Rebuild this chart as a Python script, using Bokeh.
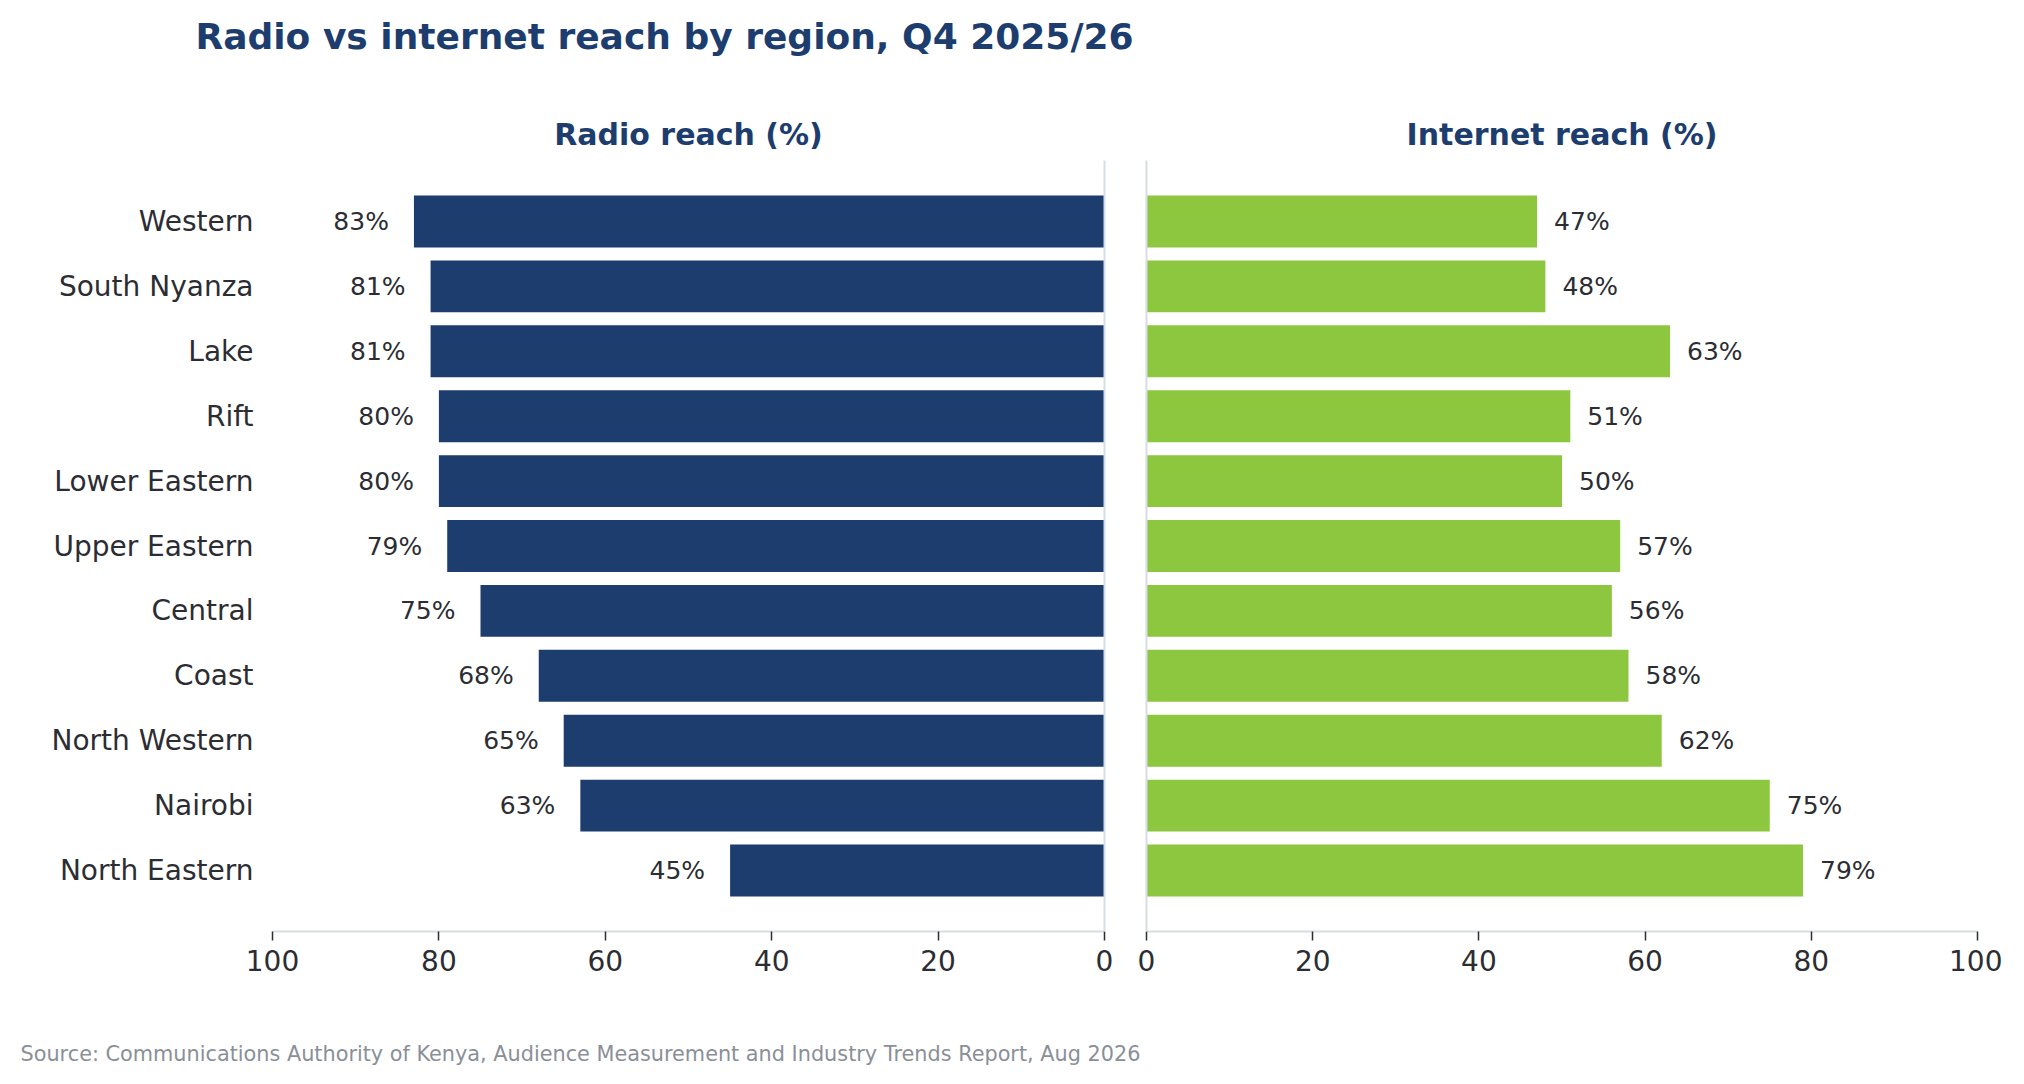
from bokeh.plotting import figure
from bokeh.models import Range1d, FixedTicker, LinearAxis, Label, ColumnDataSource
from bokeh.layouts import column, row
from bokeh.embed import file_html
from bokeh.resources import INLINE

regions = ["Western", "South Nyanza", "Lake", "Rift", "Lower Eastern", "Upper Eastern",
           "Central", "Coast", "North Western", "Nairobi", "North Eastern"]
radio = [83, 81, 81, 80, 80, 79, 75, 68, 65, 63, 45]
internet = [47, 48, 63, 51, 50, 57, 56, 58, 62, 75, 79]
x_ticks = [0, 20, 40, 60, 80, 100]

title_text = "Radio vs internet reach by region, Q4 2025/26"
left_title = "Radio reach (%)"
right_title = "Internet reach (%)"
source_text = "Source: Communications Authority of Kenya, Audience Measurement and Industry Trends Report, Aug 2026"

NAVY = "#1c3d6e"
GREEN = "#8dc63f"
TEXT = "#2b2d33"
GRID = "#d8dde3"
FONT = "DejaVu Sans"

idx = list(range(len(regions)))
src = ColumnDataSource(dict(
    y=idx, region=regions, radio=radio, internet=internet,
    radio_lbl=[f"{v}%" for v in radio], internet_lbl=[f"{v}%" for v in internet],
))

n = len(regions)
y_start, y_end = n - 1 + 0.94, -0.94
LEFT_W = 272 + 832 + 20
RIGHT_W = 22 + 831 + 25
TOTAL_W = LEFT_W + RIGHT_W


def style_common(p, title):
    p.title.text = title
    p.title.align = "center"
    p.title.text_font = FONT
    p.title.text_font_size = "30px"
    p.title.text_font_style = "bold"
    p.title.text_color = NAVY
    p.title.standoff = 17
    p.outline_line_color = None
    p.background_fill_color = "white"
    p.border_fill_color = "white"
    p.xgrid.visible = False
    p.ygrid.visible = False
    ax = p.xaxis[0]
    ax.ticker = FixedTicker(ticks=x_ticks)
    ax.axis_line_color = GRID
    ax.axis_line_width = 2
    ax.major_tick_line_color = TEXT
    ax.major_tick_line_width = 1.5
    ax.major_tick_out = 9
    ax.major_tick_in = 0
    ax.minor_tick_line_color = None
    ax.major_label_text_font = FONT
    ax.major_label_text_font_size = "28px"
    ax.major_label_text_color = TEXT
    ax.major_label_standoff = 9


# ---- left panel (radio) ----
left = figure(width=LEFT_W, height=922,
              x_range=Range1d(100, 0), y_range=Range1d(y_start, y_end),
              output_backend="svg", toolbar_location=None,
              min_border_left=272, min_border_right=20,
              min_border_top=81, min_border_bottom=70)
style_common(left, left_title)
left.hbar(y="y", left=0, right="radio", height=0.8, source=src,
          fill_color=NAVY, line_color=None)
left.text(x="radio", y="y", text="radio_lbl", source=src, x_offset=-25,
          text_align="right", text_baseline="middle",
          text_font_size="25px", text_color=TEXT, text_font={"value": FONT})
ya = left.yaxis[0]
ya.ticker = FixedTicker(ticks=idx)
ya.major_label_overrides = {i: r for i, r in enumerate(regions)}
ya.axis_line_color = None
ya.major_tick_line_color = None
ya.major_tick_out = 0
ya.major_tick_in = 0
ya.minor_tick_line_color = None
ya.major_label_standoff = 19
ya.major_label_text_font = FONT
ya.major_label_text_font_size = "28px"
ya.major_label_text_color = TEXT
rax = LinearAxis(ticker=FixedTicker(ticks=[]), axis_line_color=GRID, axis_line_width=2,
                 major_tick_line_color=None, minor_tick_line_color=None,
                 major_label_text_font_size="0px")
left.add_layout(rax, "right")

# ---- right panel (internet) ----
right = figure(width=RIGHT_W, height=922,
               x_range=Range1d(0, 100), y_range=left.y_range,
               output_backend="svg", toolbar_location=None,
               min_border_left=22, min_border_right=25,
               min_border_top=81, min_border_bottom=70)
style_common(right, right_title)
right.hbar(y="y", left=0, right="internet", height=0.8, source=src,
           fill_color=GREEN, line_color=None)
right.text(x="internet", y="y", text="internet_lbl", source=src, x_offset=17,
           text_align="left", text_baseline="middle",
           text_font_size="25px", text_color=TEXT, text_font={"value": FONT})
yb = right.yaxis[0]
yb.ticker = FixedTicker(ticks=[])
yb.axis_line_color = GRID
yb.axis_line_width = 2
yb.major_tick_line_color = None
yb.minor_tick_line_color = None
yb.major_label_text_font_size = "0px"


# ---- header and footer ----
def text_strip(h):
    p = figure(width=TOTAL_W, height=h, x_range=Range1d(0, TOTAL_W), y_range=Range1d(h, 0),
               x_axis_type=None, y_axis_type=None, min_border=0,
               output_backend="svg", toolbar_location=None)
    p.outline_line_color = None
    p.background_fill_color = "white"
    p.border_fill_color = "white"
    return p


top = text_strip(79)
top.add_layout(Label(x=195, y=36, text=title_text, text_baseline="middle",
                     text_font=FONT, text_font_size="36px", text_font_style="bold",
                     text_color=NAVY))
bottom = text_strip(66)
bottom.add_layout(Label(x=20, y=52, text=source_text, text_baseline="middle",
                        text_font=FONT, text_font_size="20.8px", text_color="#8a8f98"))

layout = column(top, row(left, right), bottom)
open("out.html", "w").write(file_html(layout, INLINE))
